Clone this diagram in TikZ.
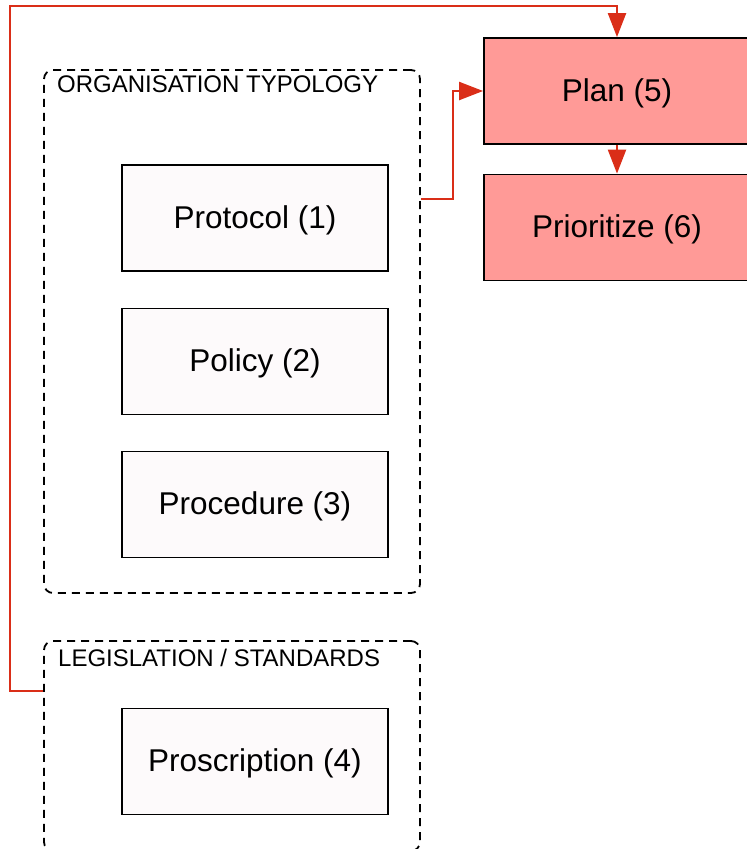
\documentclass[tikz,border=0pt]{standalone}
\usepackage{fontspec}
\setmainfont{Liberation Sans}
\usetikzlibrary{arrows.meta}
\definecolor{flowred}{RGB}{218,46,24}
\definecolor{paleface}{RGB}{253,250,251}
\definecolor{salmon}{RGB}{255,154,151}
\tikzset{
  x=1pt, y=1pt,
  itembox/.style={draw=black, line width=1.8pt, fill=paleface,
    minimum width=266pt, minimum height=106pt, inner sep=0pt,
    text height=20pt, text depth=0pt,
    font=\fontsize{31.5}{36}\selectfont},
  actbox/.style={itembox, fill=salmon},
  groupbox/.style={draw=black, line width=1.8pt, dash pattern=on 8pt off 6pt,
    rounded corners=9pt, inner sep=0pt},
  grouplabel/.style={anchor=north west, inner sep=0pt,
    font=\fontsize{24}{28}\selectfont},
  flow/.style={draw=flowred, line width=2.2pt,
    -{Triangle[length=24pt,width=18pt]}},
}
\begin{document}
\begin{tikzpicture}
  \useasboundingbox (0,0) rectangle (747,-849);
  \begin{scope}
    \clip (0,0) rectangle (747,-849);

    % groups
    \node[groupbox, minimum width=376pt, minimum height=523pt] (org) at (232,-331.5) {};
    \node[groupbox, minimum width=376pt, minimum height=210pt] (leg) at (232,-746) {};
    \node[grouplabel] (orglabel) at (57,-76) {ORGANISATION TYPOLOGY};
    \node[grouplabel] (leglabel) at (58,-649) {LEGISLATION / STANDARDS};

    % document kinds
    \node[itembox] (protocol) at (255,-218) {Protocol (1)};
    \node[itembox] (policy) at (255,-361.5) {Policy (2)};
    \node[itembox] (procedure) at (255,-504.5) {Procedure (3)};
    \node[itembox] (proscription) at (255,-761.5) {Proscription (4)};

    % actions
    \node[actbox] (plan) at (617,-91) {Plan (5)};
    \node[actbox] (prioritize) at (617,-227.5) {Prioritize (6)};

    % connectors
    \coordinate (orgout) at ([yshift=132.5pt]org.east);
    \coordinate (legout) at ([yshift=55pt]leg.west);
    \coordinate (planin) at ([yshift=31pt]plan.north);

    \draw[flow] (orgout) -- ++(32,0) |- (plan.west);
    \draw[flow] (legout) -- ++(-33,0) |- (planin) -- (plan.north);
    \draw[flow] (plan.south) -- (prioritize.north);
  \end{scope}
\end{tikzpicture}
\end{document}
